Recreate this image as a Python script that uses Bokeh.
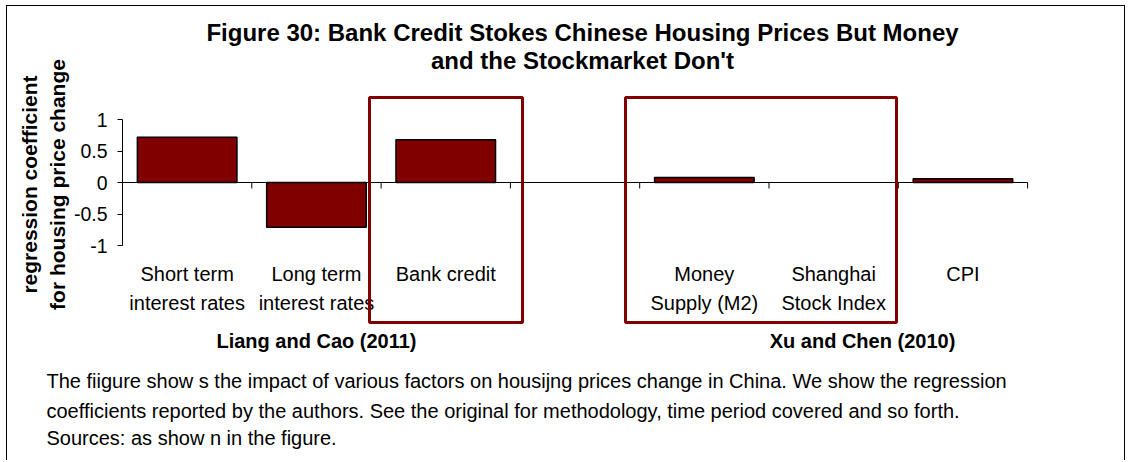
import math
from bokeh.plotting import figure
from bokeh.models import Range1d, Label, Title, FixedTicker, CustomJSTickFormatter
from bokeh.core.properties import value
from bokeh.embed import file_html
from bokeh.resources import INLINE

# ---------------- data ----------------
title_lines = ["Figure 30: Bank Credit Stokes Chinese Housing Prices But Money",
               "and the Stockmarket Don't"]
y_label_lines = ["regression coefficient", "for housing price change"]
category_line1 = ["Short term", "Long term", "Bank credit", "", "Money", "Shanghai", "CPI"]
category_line2 = ["interest rates", "interest rates", "", "", "Supply (M2)", "Stock Index", ""]
coefficients = [0.72, -0.71, 0.68, None, 0.08, 0.0, 0.06]
y_ticks = [-1, -0.5, 0, 0.5, 1]
group_labels = ["Liang and Cao (2011)", "Xu and Chen (2010)"]
footnote_lines = [
    "The fiigure show s the impact of various factors on housijng prices change in China. We show  the regression",
    "coefficients reported by the authors. See the original for methodology, time period covered and so forth.",
    "Sources: as show n in the figure.",
]

# ---------------- layout ----------------
W, H = 1119, 455
PAGE_X0, PAGE_Y0 = 7, 6   # page position of the canvas
AX_LEFT_PX = 122          # page x of y axis
SLOT_PX = 129.3           # width of one category slot
ZERO_PX = 182             # page y of value 0
UNIT_PX = 63              # pixels per unit of coefficient
FRAME_BOTTOM_PX = 362
FONT = "Liberation Sans"
BAR_COLOR = "#800000"
BOX_COLOR = "#800000"


def xd(px):
    return (px - AX_LEFT_PX) / SLOT_PX


def yd(py):
    return (ZERO_PX - py) / UNIT_PX


frame_left = AX_LEFT_PX - PAGE_X0
frame_bottom_border = PAGE_Y0 + H - FRAME_BOTTOM_PX
p = figure(width=W, height=H,
           x_range=Range1d(0, (W - frame_left) / SLOT_PX),
           y_range=Range1d(yd(FRAME_BOTTOM_PX), yd(PAGE_Y0)),
           output_backend="svg", toolbar_location=None,
           x_axis_location=None,
           min_border_left=frame_left, min_border_right=0,
           min_border_top=0, min_border_bottom=frame_bottom_border)
p.styles = {"margin-left": "%dpx" % (PAGE_X0 - 1), "margin-top": "%dpx" % (PAGE_Y0 - 1),
            "border-top": "1px solid #000", "border-left": "1px solid #000",
            "border-right": "1px solid #000"}
p.outline_line_color = None
p.grid.visible = False
p.background_fill_color = "white"
p.border_fill_color = "white"

ya = p.yaxis[0]
ya.bounds = (-1, 1)
ya.ticker = FixedTicker(ticks=y_ticks)
ya.formatter = CustomJSTickFormatter(code="return tick.toString();")
ya.major_label_text_font = FONT
ya.major_label_text_font_size = "19.5px"
ya.major_label_text_color = "black"
ya.major_tick_out = 5
ya.major_tick_in = 0
ya.minor_tick_out = 0
ya.minor_tick_in = 0
ya.major_label_standoff = 10
ya.axis_line_color = "black"
ya.major_tick_line_color = "black"
ya.axis_label = y_label_lines[1]
ya.axis_label_text_font = FONT
ya.axis_label_text_font_size = "21px"
ya.axis_label_text_font_style = "bold"
ya.axis_label_text_color = "black"
ya.axis_label_standoff = 2

p.add_layout(Title(text=y_label_lines[0], align="center", text_font=FONT,
                   text_font_size="21px", text_font_style="bold",
                   text_color="black", standoff=4, offset=-6), "left")

n = len(category_line1)
centers = [i + 0.5 for i in range(n)]

# bars
bx = [centers[i] for i, v in enumerate(coefficients) if v]
bt = [v for v in coefficients if v]
p.vbar(x=bx, top=bt, bottom=0, width=0.77, fill_color=BAR_COLOR,
       line_color="black", line_width=1.5)

# zero line with category ticks
p.segment(x0=[0], y0=[0], x1=[n], y1=[0], line_color="black", line_width=1)
bounds = list(range(1, n + 1))
p.segment(x0=bounds, y0=[0] * n, x1=bounds, y1=[yd(ZERO_PX + 6)] * n,
          line_color="black", line_width=1)

# category labels
p.text(x=centers, y=[yd(273)] * n, text=category_line1, text_align="center",
       text_baseline="middle", text_font=value(FONT), text_font_size="20px",
       text_color="black")
p.text(x=centers, y=[yd(302)] * n, text=category_line2, text_align="center",
       text_baseline="middle", text_font=value(FONT), text_font_size="20px",
       text_color="black")

# highlight boxes (Bank credit; Money Supply + Shanghai)
box_left = [xd(369), xd(625)]
box_right = [xd(522), xd(896)]
p.quad(left=box_left, right=box_right, top=[yd(97)] * 2, bottom=[yd(322)] * 2,
       fill_color=None, line_color=BOX_COLOR, line_width=3)

# title
for line, py in zip(title_lines, [32, 60]):
    p.add_layout(Label(x=xd(582), y=yd(py), text=line, text_align="center",
                       text_baseline="middle", text_font=FONT,
                       text_font_size="24px", text_font_style="bold",
                       text_color="black"))

# group labels
for line, px in zip(group_labels, [316, 862]):
    p.add_layout(Label(x=xd(px), y=yd(340), text=line, text_align="center",
                       text_baseline="middle", text_font=FONT,
                       text_font_size="20px", text_font_style="bold",
                       text_color="black"))

# footnote (below the frame, shifted left to the page text margin)
for i, line in enumerate(footnote_lines):
    p.add_layout(Title(text=line, align="left", offset=46 - AX_LEFT_PX,
                       text_font=FONT, text_font_size="20px",
                       text_font_style="normal", text_color="black",
                       standoff=10 if i == 0 else 3), "below")

open("out.html", "w").write(file_html(p, INLINE))
